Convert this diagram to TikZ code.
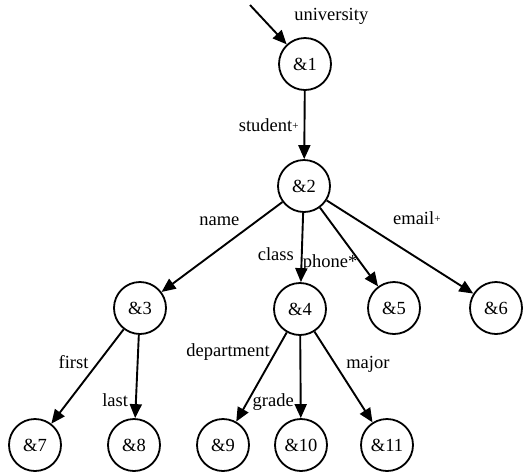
\documentclass[tikz,border=0pt]{standalone}
\usepackage{fontspec}
\setmainfont{Liberation Serif}
\usetikzlibrary{arrows.meta}
\tikzset{obj/.style={draw, circle, line width=1.8pt, minimum size=52pt, inner sep=0pt}}
\tikzset{link/.style={line width=1.9pt, -{Triangle[length=14pt, width=12pt]}}}
\tikzset{tag/.style={inner sep=1pt}}
\newcommand{\plus}{\raisebox{1.5pt}{\fontsize{11}{11}\selectfont+}}

\begin{document}
\begin{tikzpicture}[x=1pt, y=-1pt, font=\fontsize{18.5}{22}\selectfont]
		\useasboundingbox (0,0) rectangle (530,475);

		% Objects
		\coordinate (in) at (250,5);
		\node[obj] (n1) at (305,64) {\&1};
		\node[obj] (n2) at (304,186) {\&2};
		\node[obj] (n3) at (140,308) {\&3};
		\node[obj] (n4) at (300,309) {\&4};
		\node[obj] (n5) at (394,308) {\&5};
		\node[obj] (n6) at (496,308) {\&6};
		\node[obj] (n7) at (35,445) {\&7};
		\node[obj] (n8) at (134,445) {\&8};
		\node[obj] (n9) at (223,445) {\&9};
		\node[obj] (n10) at (301,445) {\&10};
		\node[obj] (n11) at (387,445) {\&11};

		% Edges
		\draw[link] (in) -- node[tag, pos=.5, anchor=south west, xshift=24pt, yshift=-2pt] {university} (n1);
		\draw[link] (n1) -- node[tag, left, xshift=-4pt] {student\plus} (n2);
		\draw[link] (n2) -- node[tag, pos=.34, above left, yshift=5pt] {name} (n3);
		\draw[link] (n2) -- node[tag, pos=.59, left, xshift=-6pt] {class} (n4);
		\draw[link] (n2) -- node[tag, pos=.71, left, xshift=-2pt] {phone*} (n5);
		\draw[link] (n2) -- node[tag, pos=.44, above right, yshift=15pt] {email\plus} (n6);
		%% second level
		\draw[link] (n3) -- node[tag, pos=.35, left, xshift=-8pt] {first} (n7);
		\draw[link] (n3) -- node[tag, pos=.78, left, xshift=-6pt] {last} (n8);
		\draw[link] (n4) -- node[tag, pos=.22, left, xshift=-4pt] {department} (n9);
		\draw[link] (n4) -- node[tag, pos=.8, left, xshift=-5pt] {grade} (n10);
		\draw[link] (n4) -- node[tag, pos=.36, right, xshift=9pt] {major} (n11);
	\end{tikzpicture}
\end{document}
